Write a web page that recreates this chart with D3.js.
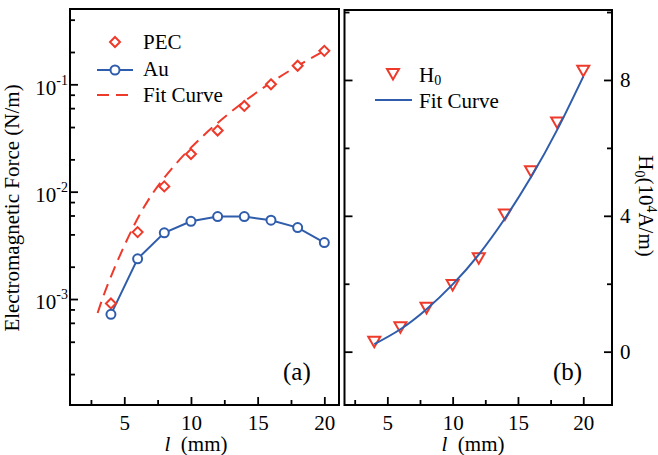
<!DOCTYPE html>
<html>
<head>
<meta charset="utf-8">
<script src="https://cdn.jsdelivr.net/npm/d3@7"></script>
<style>
body { margin: 0; background: #fff; }
svg text { font-family: "Liberation Serif", "Times New Roman", serif; fill: #000; }
</style>
</head>
<body>
<div id="chart"></div>
<script>
// panel (a): force vs length, log scale
var lengths = [4, 6, 8, 10, 12, 14, 16, 18, 20];
var pecForce = [9.1e-4, 4.2e-3, 0.0112, 0.0224, 0.0371, 0.0629, 0.100, 0.149, 0.205];
var auForce = [7.2e-4, 2.37e-3, 4.14e-3, 5.3e-3, 5.86e-3, 5.86e-3, 5.42e-3, 4.63e-3, 3.36e-3];
var pecFitLen = [3, 4, 6, 8, 10, 12, 14, 16, 18, 20];
var pecFitForce = [7.4e-4, 1.62e-3, 5.62e-3, 0.0135, 0.0257, 0.0437, 0.0692, 0.1038, 0.1486, 0.205];

// panel (b): H0 vs length
var h0 = [0.29, 0.72, 1.29, 1.96, 2.75, 4.04, 5.31, 6.75, 8.27];
var h0FitLen = [4, 6, 8, 10, 12, 14, 16, 18, 20];
var h0Fit = [0.22, 0.66, 1.25, 1.98, 2.86, 3.92, 5.14, 6.53, 8.1];

// ticks
var lenMajor = [5, 10, 15, 20];
var lenMinor = [2.5, 7.5, 12.5, 17.5];
var forceMajor = [1e-3, 1e-2, 1e-1];
var forceMinor = [2e-4, 4e-4, 6e-4, 8e-4, 2e-3, 4e-3, 6e-3, 8e-3, 0.02, 0.04, 0.06, 0.08, 0.2, 0.4];
var h0Major = [0, 4, 8];
var h0Minor = [2, 6, 10];

var w = 658, h = 455;
var red = "#ee3a2b", blue = "#2f5dab";
var fontSize = 21;

var pa = {left: 70, right: 339, top: 9, bottom: 405};
var pb = {left: 344.5, right: 612, top: 10, bottom: 405};

var xA = d3.scaleLinear().domain([0.93, 21.1]).range([pa.left, pa.right]);
var yA = d3.scaleLog().domain([1.03e-4, 0.503]).range([pa.bottom, pa.top]);
var xB = d3.scaleLinear().domain([1.72, 22.2]).range([pb.left, pb.right]);
var yB = d3.scaleLinear().domain([-1.57, 10.06]).range([pb.bottom, pb.top]);

var svg = d3.select("#chart").append("svg")
    .attr("width", w)
    .attr("height", h);

// draws one axis call, styles it, drops the domain line
function axis(gen, tx, ty) {
    var g = svg.append("g")
        .attr("transform", "translate(" + tx + "," + ty + ")")
        .call(gen);
    g.select(".domain").remove();
    g.attr("font-family", null).attr("font-size", fontSize);
    g.selectAll(".tick line").attr("stroke", "#000").attr("stroke-width", 1.8);
    return g;
}

// ---- panel (a) axes
axis(d3.axisBottom(xA).tickValues(lenMinor).tickSize(-5).tickFormat(""), 0, pa.bottom);
axis(d3.axisBottom(xA).tickValues(lenMajor).tickSize(-8).tickPadding(10), 0, pa.bottom);
axis(d3.axisLeft(yA).tickValues(forceMinor).tickSize(-5).tickFormat(""), pa.left, 0);
var yAg = axis(d3.axisLeft(yA).tickValues(forceMajor).tickSize(-8).tickPadding(2)
    .tickFormat(function() { return "10"; }), pa.left, 0);
yAg.selectAll(".tick text")
    .attr("y", 3)
    .each(function(d) {
        d3.select(this).append("tspan")
            .attr("dy", -10)
            .attr("font-size", 14)
            .text(String(Math.round(Math.log10(d))));
    });

// ---- panel (b) axes
axis(d3.axisBottom(xB).tickValues(lenMinor).tickSize(-5).tickFormat(""), 0, pb.bottom);
axis(d3.axisBottom(xB).tickValues(lenMajor).tickSize(-8).tickPadding(10), 0, pb.bottom);
axis(d3.axisLeft(yB).tickValues(h0Minor).tickSize(-5).tickFormat(""), pb.left, 0);
axis(d3.axisLeft(yB).tickValues(h0Major).tickSize(-8).tickFormat(""), pb.left, 0);
axis(d3.axisRight(yB).tickValues(h0Minor).tickSize(-5).tickFormat(""), pb.right, 0);
axis(d3.axisRight(yB).tickValues(h0Major).tickSize(-8).tickPadding(8), pb.right, 0);

// frames
[pa, pb].forEach(function(p) {
    svg.append("rect")
        .attr("x", p.left).attr("y", p.top)
        .attr("width", p.right - p.left).attr("height", p.bottom - p.top)
        .attr("fill", "none").attr("stroke", "#000").attr("stroke-width", 2);
});

// ---- panel (a) data
var fitLineA = d3.line()
    .x(function(d, i) { return xA(pecFitLen[i]); })
    .y(function(d) { return yA(d); })
    .curve(d3.curveNatural);
svg.append("path").datum(pecFitForce)
    .attr("d", fitLineA)
    .attr("fill", "none").attr("stroke", red).attr("stroke-width", 2)
    .attr("stroke-dasharray", "12,7");

var auLine = d3.line()
    .x(function(d, i) { return xA(lengths[i]); })
    .y(function(d) { return yA(d); });
svg.append("path").datum(auForce)
    .attr("d", auLine)
    .attr("fill", "none").attr("stroke", blue).attr("stroke-width", 2);

var diamond = "M0,-5L5,0L0,5L-5,0Z";
var triangle = "M-6,-5L6,-5L0,5.5Z";

svg.selectAll(".pec").data(pecForce).join("path")
    .attr("class", "pec")
    .attr("d", diamond)
    .attr("transform", function(d, i) { return "translate(" + xA(lengths[i]) + "," + yA(d) + ")"; })
    .attr("fill", "#fff").attr("stroke", red).attr("stroke-width", 2);

svg.selectAll(".au").data(auForce).join("circle")
    .attr("class", "au")
    .attr("cx", function(d, i) { return xA(lengths[i]); })
    .attr("cy", function(d) { return yA(d); })
    .attr("r", 4.5)
    .attr("fill", "#fff").attr("stroke", blue).attr("stroke-width", 2);

// ---- panel (b) data
var fitLineB = d3.line()
    .x(function(d, i) { return xB(h0FitLen[i]); })
    .y(function(d) { return yB(d); })
    .curve(d3.curveNatural);

svg.selectAll(".h0").data(h0).join("path")
    .attr("class", "h0")
    .attr("d", triangle)
    .attr("transform", function(d, i) { return "translate(" + xB(lengths[i]) + "," + yB(d) + ")"; })
    .attr("fill", "#fff").attr("stroke", red).attr("stroke-width", 2);

svg.append("path").datum(h0Fit)
    .attr("d", fitLineB)
    .attr("fill", "none").attr("stroke", blue).attr("stroke-width", 2);

// ---- legends
svg.append("path").attr("d", diamond).attr("transform", "translate(115,42)")
    .attr("fill", "#fff").attr("stroke", red).attr("stroke-width", 2);
svg.append("text").attr("x", 143).attr("y", 48.5).attr("font-size", fontSize).text("PEC");
svg.append("line").attr("x1", 97).attr("x2", 133).attr("y1", 70).attr("y2", 70)
    .attr("stroke", blue).attr("stroke-width", 2);
svg.append("circle").attr("cx", 115).attr("cy", 70).attr("r", 4.5)
    .attr("fill", "#fff").attr("stroke", blue).attr("stroke-width", 2);
svg.append("text").attr("x", 143).attr("y", 76).attr("font-size", fontSize).text("Au");
svg.append("line").attr("x1", 97).attr("x2", 134).attr("y1", 95).attr("y2", 95)
    .attr("stroke", red).attr("stroke-width", 2).attr("stroke-dasharray", "12,7");
svg.append("text").attr("x", 143).attr("y", 101.5).attr("font-size", fontSize).text("Fit Curve");

svg.append("path").attr("d", triangle).attr("transform", "translate(393,74)")
    .attr("fill", "#fff").attr("stroke", red).attr("stroke-width", 2);
var lh = svg.append("text").attr("x", 419).attr("y", 81.5).attr("font-size", fontSize);
lh.append("tspan").text("H");
lh.append("tspan").attr("font-size", 14).attr("dy", 3).text("0");
svg.append("line").attr("x1", 375).attr("x2", 412).attr("y1", 100).attr("y2", 100)
    .attr("stroke", blue).attr("stroke-width", 2);
svg.append("text").attr("x", 419).attr("y", 108).attr("font-size", fontSize).text("Fit Curve");

// ---- panel tags
svg.append("text").attr("x", 283).attr("y", 380).attr("font-size", 25).text("(a)");
svg.append("text").attr("x", 553).attr("y", 380).attr("font-size", 25).text("(b)");

// ---- axis titles
[196, 473].forEach(function(cx) {
    var t = svg.append("text").attr("x", cx).attr("y", 451)
        .attr("text-anchor", "middle").attr("font-size", fontSize);
    t.append("tspan").attr("font-style", "italic").text("l");
    t.append("tspan").text("\u00a0\u00a0(mm)");
});

svg.append("text")
    .attr("transform", "translate(18.5,208) rotate(-90)")
    .attr("text-anchor", "middle").attr("font-size", fontSize)
    .text("Electromagnetic Force (N/m)");

var ry = svg.append("text")
    .attr("transform", "translate(639,206) rotate(90)")
    .attr("text-anchor", "middle").attr("font-size", fontSize);
ry.append("tspan").text("H");
ry.append("tspan").attr("font-size", 14).attr("dy", 4).text("0");
ry.append("tspan").attr("dy", -4).text("(10");
ry.append("tspan").attr("font-size", 14).attr("dy", -8).text("4");
ry.append("tspan").attr("dy", 8).text("A/m)");
</script>
</body>
</html>
